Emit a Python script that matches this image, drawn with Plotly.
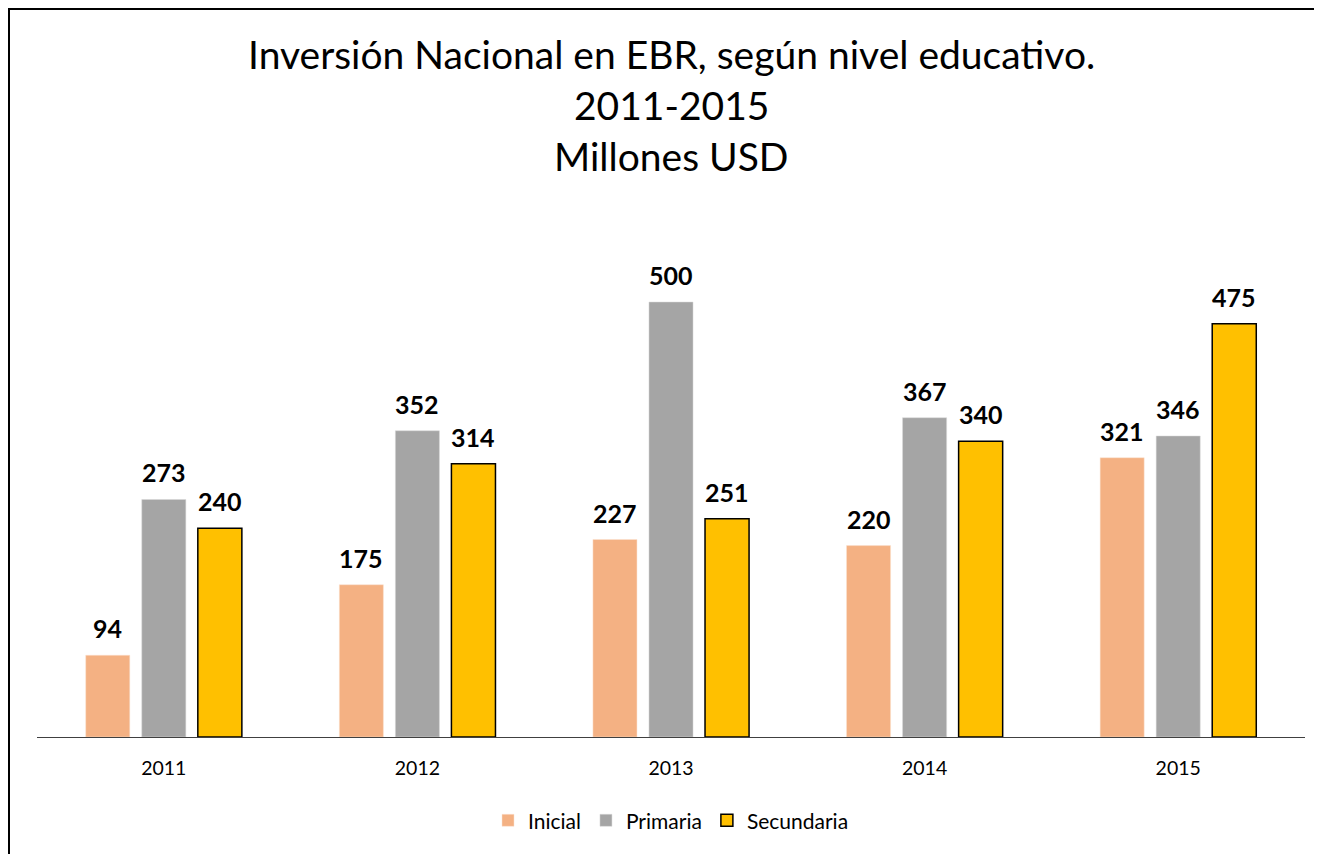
import plotly.graph_objects as go

years = ["2011", "2012", "2013", "2014", "2015"]
inicial = [94, 175, 227, 220, 321]
primaria = [273, 352, 500, 367, 346]
secundaria = [240, 314, 251, 340, 475]
title_lines = ["Inversión Nacional en EBR, según nivel educativo.", "2011-2015", "Millones USD"]

series = [
    ("Inicial", inicial, "#F4B183", "#FBE3D1", 0.5),
    ("Primaria", primaria, "#A5A5A5", "#D9D9D9", 0.5),
    ("Secundaria", secundaria, "#FFC000", "#000000", 1.5),
]

FONT = "Lato"
fig = go.Figure()
for name, vals, color, lcolor, lw in series:
    fig.add_trace(go.Bar(
        name=name, x=years, y=vals,
        marker=dict(color=color, line=dict(color=lcolor, width=lw)),
    ))

shifts = [-56, 0, 56]
for (name, vals, *_), xs in zip(series, shifts):
    for i, v in enumerate(vals):
        fig.add_annotation(
            x=i, y=v, xref="x", yref="y", text=f"<b>{v}</b>",
            showarrow=False, xshift=xs, yshift=27, yanchor="middle",
            font=dict(family=FONT, size=25, color="#000000"),
        )

for line, ys in zip(title_lines, [161, 110, 59]):
    fig.add_annotation(
        x=0.5, y=1, xref="paper", yref="paper", text=line,
        showarrow=False, yshift=ys, yanchor="middle", xanchor="center",
        font=dict(family=FONT, size=39, color="#000000"),
    )

fig.update_layout(
    width=1322, height=854,
    margin=dict(l=29, r=25, t=207, b=125, autoexpand=False),
    paper_bgcolor="white", plot_bgcolor="white",
    barmode="group", bargap=0.337, bargroupgap=0.214,
    legend=dict(
        orientation="h", x=0.5, xanchor="center", y=-0.121, yanchor="top",
        font=dict(family=FONT, size=21, color="#000000"),
        itemwidth=30, traceorder="normal",
    ),
    showlegend=True,
    shapes=[dict(
        type="rect", xref="paper", yref="paper",
        xsizemode="pixel", ysizemode="pixel", xanchor=0, yanchor=1,
        x0=-28, x1=2000, y0=206, y1=-1000,
        line=dict(color="#000000", width=2), fillcolor="rgba(0,0,0,0)",
    )],
)
fig.update_xaxes(
    type="category", range=[-0.5, 4.5],
    showline=True, linecolor="#404040", linewidth=1, ticks="",
    tickfont=dict(family=FONT, size=19.5, color="#000000"),
    ticklabelstandoff=14,
)
fig.update_yaxes(
    range=[0, 600], visible=False, showgrid=False, zeroline=False,
)

fig.write_html("out.html")
